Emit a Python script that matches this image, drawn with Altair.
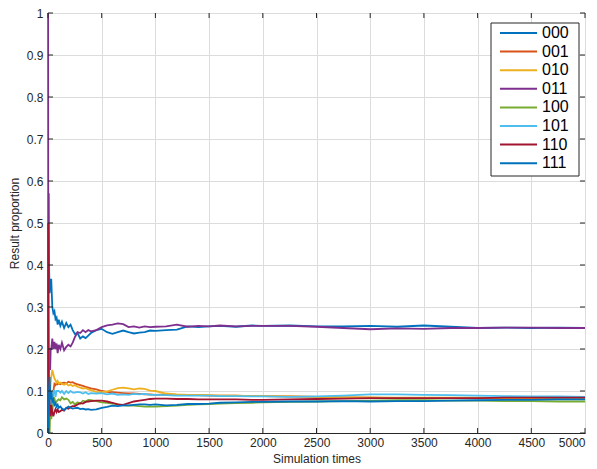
import altair as alt
import pandas as pd

steps = [1, 2, 3, 5, 7, 10, 15, 20, 25, 30,
         40, 50, 60, 70, 80, 90, 100,
         115, 130, 150, 170, 190, 210, 230, 250,
         275, 300, 325, 350, 375, 400,
         450, 500, 550, 600, 650, 700, 750, 800, 850, 900, 950, 1000,
         1100, 1200, 1300, 1400, 1500, 1600, 1750, 1900, 2000,
         2250, 2500, 2750, 3000, 3250, 3500, 3750, 4000, 4250, 4500, 4750, 5000]

names = ["000", "001", "010", "011", "100", "101", "110", "111"]

p000 = [0, 0, 0.333, 0.4, 0.571, 0.4, 0.333, 0.35, 0.36, 0.367,
        0.3, 0.285, 0.29, 0.271, 0.275, 0.258, 0.27,
        0.255, 0.265, 0.25, 0.262, 0.252, 0.258, 0.245, 0.236,
        0.238, 0.225, 0.23, 0.226, 0.232, 0.238,
        0.245, 0.248, 0.24, 0.236, 0.24, 0.244, 0.24, 0.237, 0.239, 0.24, 0.244, 0.243,
        0.245, 0.246, 0.254, 0.252, 0.254, 0.255, 0.253, 0.256, 0.255,
        0.256, 0.254, 0.254, 0.255, 0.253, 0.256, 0.253, 0.25, 0.251, 0.25, 0.251, 0.25]
p001 = [0, 0, 0, 0, 0, 0, 0.067, 0.1, 0.08, 0.067,
        0.075, 0.1, 0.117, 0.114, 0.118, 0.116, 0.118,
        0.116, 0.119, 0.12, 0.118, 0.122, 0.12, 0.121, 0.118,
        0.116, 0.114, 0.112, 0.11, 0.108, 0.106,
        0.104, 0.1, 0.098, 0.097, 0.096, 0.095, 0.094, 0.094, 0.093, 0.092, 0.092, 0.091,
        0.092, 0.091, 0.09, 0.09, 0.089, 0.089, 0.089, 0.088, 0.088,
        0.087, 0.086, 0.085, 0.084, 0.083, 0.083, 0.083, 0.083, 0.083, 0.083, 0.083, 0.082]
p010 = [0, 0, 0, 0, 0, 0.1, 0.133, 0.1, 0.12, 0.133,
        0.15, 0.14, 0.13, 0.125, 0.12, 0.124, 0.118,
        0.12, 0.117, 0.115, 0.118, 0.113, 0.115, 0.112, 0.114,
        0.11, 0.108, 0.106, 0.107, 0.104, 0.102,
        0.098, 0.097, 0.099, 0.103, 0.107, 0.108, 0.106, 0.104, 0.106, 0.105, 0.101, 0.1,
        0.094, 0.092, 0.091, 0.091, 0.09, 0.089, 0.089, 0.088, 0.088,
        0.087, 0.086, 0.085, 0.085, 0.084, 0.084, 0.084, 0.084, 0.083, 0.083, 0.083, 0.082]
p011 = [1, 0.5, 0.333, 0.2, 0.143, 0.2, 0.2, 0.15, 0.2, 0.2,
        0.225, 0.2, 0.217, 0.2, 0.213, 0.19, 0.21,
        0.2, 0.215, 0.197, 0.205, 0.21, 0.206, 0.215, 0.228,
        0.24, 0.238, 0.245, 0.24, 0.245, 0.242,
        0.245, 0.252, 0.256, 0.258, 0.261, 0.259, 0.252, 0.254, 0.251, 0.254, 0.252, 0.253,
        0.254, 0.258, 0.253, 0.255, 0.254, 0.256, 0.254, 0.255, 0.255,
        0.255, 0.253, 0.25, 0.247, 0.249, 0.248, 0.25, 0.25, 0.251, 0.251, 0.25, 0.25]
p100 = [0, 0, 0, 0, 0, 0, 0, 0.05, 0.04, 0.033,
        0.05, 0.08, 0.083, 0.071, 0.075, 0.078, 0.08,
        0.078, 0.085, 0.08, 0.082, 0.079, 0.071, 0.074, 0.068,
        0.073, 0.07, 0.077, 0.075, 0.079, 0.078,
        0.076, 0.073, 0.072, 0.07, 0.068, 0.066, 0.065, 0.065, 0.064, 0.063, 0.063, 0.063,
        0.064, 0.065, 0.067, 0.068, 0.069, 0.07, 0.071, 0.072, 0.073,
        0.074, 0.075, 0.076, 0.077, 0.078, 0.078, 0.077, 0.077, 0.076, 0.076, 0.075, 0.075]
p101 = [0, 0, 0, 0.2, 0.143, 0.1, 0.067, 0.1, 0.08, 0.067,
        0.075, 0.1, 0.1, 0.086, 0.1, 0.1, 0.1,
        0.096, 0.1, 0.093, 0.1, 0.095, 0.1, 0.096, 0.096,
        0.098, 0.097, 0.094, 0.097, 0.093, 0.095,
        0.094, 0.095, 0.092, 0.094, 0.091, 0.092, 0.091, 0.093, 0.092, 0.093, 0.091, 0.091,
        0.09, 0.089, 0.089, 0.089, 0.089, 0.088, 0.088, 0.087, 0.087,
        0.086, 0.087, 0.089, 0.092, 0.092, 0.091, 0.09, 0.089, 0.088, 0.087, 0.087, 0.086]
p110 = [0, 0.5, 0.333, 0.2, 0.143, 0.1, 0.067, 0.05, 0.04, 0.067,
        0.05, 0.04, 0.05, 0.057, 0.05, 0.056, 0.05,
        0.052, 0.055, 0.053, 0.06, 0.058, 0.062, 0.064, 0.064,
        0.068, 0.071, 0.07, 0.074, 0.075, 0.076,
        0.077, 0.077, 0.075, 0.072, 0.068, 0.067, 0.071, 0.075, 0.077, 0.079, 0.081, 0.082,
        0.082, 0.081, 0.081, 0.08, 0.08, 0.08, 0.08, 0.079, 0.079,
        0.08, 0.081, 0.082, 0.083, 0.083, 0.083, 0.083, 0.083, 0.084, 0.084, 0.084, 0.084]
p111 = [0, 0, 0, 0, 0, 0.1, 0.133, 0.1, 0.08, 0.1,
        0.075, 0.08, 0.067, 0.071, 0.063, 0.067, 0.06,
        0.063, 0.058, 0.055, 0.059, 0.063, 0.06, 0.058, 0.059,
        0.06, 0.057, 0.058, 0.056, 0.057, 0.055,
        0.056, 0.06, 0.062, 0.065, 0.064, 0.066, 0.066, 0.067, 0.068, 0.068, 0.067, 0.068,
        0.066, 0.067, 0.069, 0.069, 0.07, 0.072, 0.073, 0.074, 0.074,
        0.075, 0.075, 0.076, 0.075, 0.076, 0.076, 0.077, 0.078, 0.079, 0.079, 0.08, 0.08]

series = [p000, p001, p010, p011, p100, p101, p110, p111]
colors = ["#0072BD", "#D95319", "#EDB120", "#7E2F8E", "#77AC30", "#4DBEEE", "#A2142F", "#0072BD"]

xticks = [0, 500, 1000, 1500, 2000, 2500, 3000, 3500, 4000, 4500, 5000]
yticks = [0, 0.1, 0.2, 0.3, 0.4, 0.5, 0.6, 0.7, 0.8, 0.9, 1]

rows = []
for nm, vals in zip(names, series):
    for s, v in zip(steps, vals):
        rows.append({"step": s, "series": nm, "value": v})
df = pd.DataFrame(rows)

W, H = 537, 420
FONT = "Liberation Sans"
DARK = "#262626"

xs = alt.Scale(domain=[0, 5000], nice=False, zero=False)
ys = alt.Scale(domain=[0, 1], nice=False)

xaxis = alt.Axis(values=xticks, format="d", title="Simulation times", grid=True,
                 ticks=False, labelFlush=False, labelOverlap=False, labelPadding=4,
                 titlePadding=5,
                 labelAlign=alt.condition("datum.value == 5000", alt.value("right"),
                                          alt.value("center")))
yaxis = alt.Axis(values=yticks, format="~g", title="Result proportion", grid=True,
                 ticks=False, labelOverlap=False, labelPadding=5, titlePadding=5)

box = alt.Chart(pd.DataFrame({"a": [0]})).mark_rect(
    fill="white", stroke=DARK, strokeWidth=1
).encode(x=alt.value(443), x2=alt.value(531), y=alt.value(10), y2=alt.value(163))

lines = alt.Chart(df).mark_line(strokeWidth=1.8).encode(
    x=alt.X("step:Q", scale=xs, axis=xaxis),
    y=alt.Y("value:Q", scale=ys, axis=yaxis),
    color=alt.Color("series:N", scale=alt.Scale(domain=names, range=colors),
                    legend=alt.Legend(title=None, orient="none", legendX=451, legendY=12,
                                      symbolType="stroke", symbolSize=1369,
                                      symbolStrokeWidth=2, clipHeight=16, rowPadding=2.6,
                                      labelFontSize=16, labelOffset=4, padding=0,
                                      labelColor="black")),
    detail="series:N",
)

xt = pd.DataFrame({"step": xticks})
yt = pd.DataFrame({"value": yticks})
tick_b = alt.Chart(xt).mark_rule(color=DARK, strokeWidth=1).encode(
    x=alt.X("step:Q", scale=xs, axis=xaxis), y=alt.value(H), y2=alt.value(H - 5))
tick_t = alt.Chart(xt).mark_rule(color=DARK, strokeWidth=1).encode(
    x=alt.X("step:Q", scale=xs, axis=xaxis), y=alt.value(0), y2=alt.value(5))
tick_l = alt.Chart(yt).mark_rule(color=DARK, strokeWidth=1).encode(
    y=alt.Y("value:Q", scale=ys, axis=yaxis), x=alt.value(0), x2=alt.value(5))
tick_r = alt.Chart(yt).mark_rule(color=DARK, strokeWidth=1).encode(
    y=alt.Y("value:Q", scale=ys, axis=yaxis), x=alt.value(W), x2=alt.value(W - 5))

chart = alt.layer(lines, box, tick_b, tick_t, tick_l, tick_r).properties(
    width=W, height=H,
    autosize=alt.AutoSizeParams(type="none"),
    padding={"left": 40, "top": 5, "right": 4, "bottom": 36},
).configure(font=FONT).configure_view(
    stroke=DARK, strokeWidth=1
).configure_axis(
    labelFont=FONT, labelFontSize=12, labelColor=DARK,
    titleFont=FONT, titleFontSize=12, titleFontWeight="normal", titleColor=DARK,
    gridColor="#dcdcdc", gridWidth=1, domainColor=DARK, domainWidth=1,
).configure_legend(labelFont=FONT)

chart.save("out.html", embed_options={"renderer": "svg", "actions": False})
